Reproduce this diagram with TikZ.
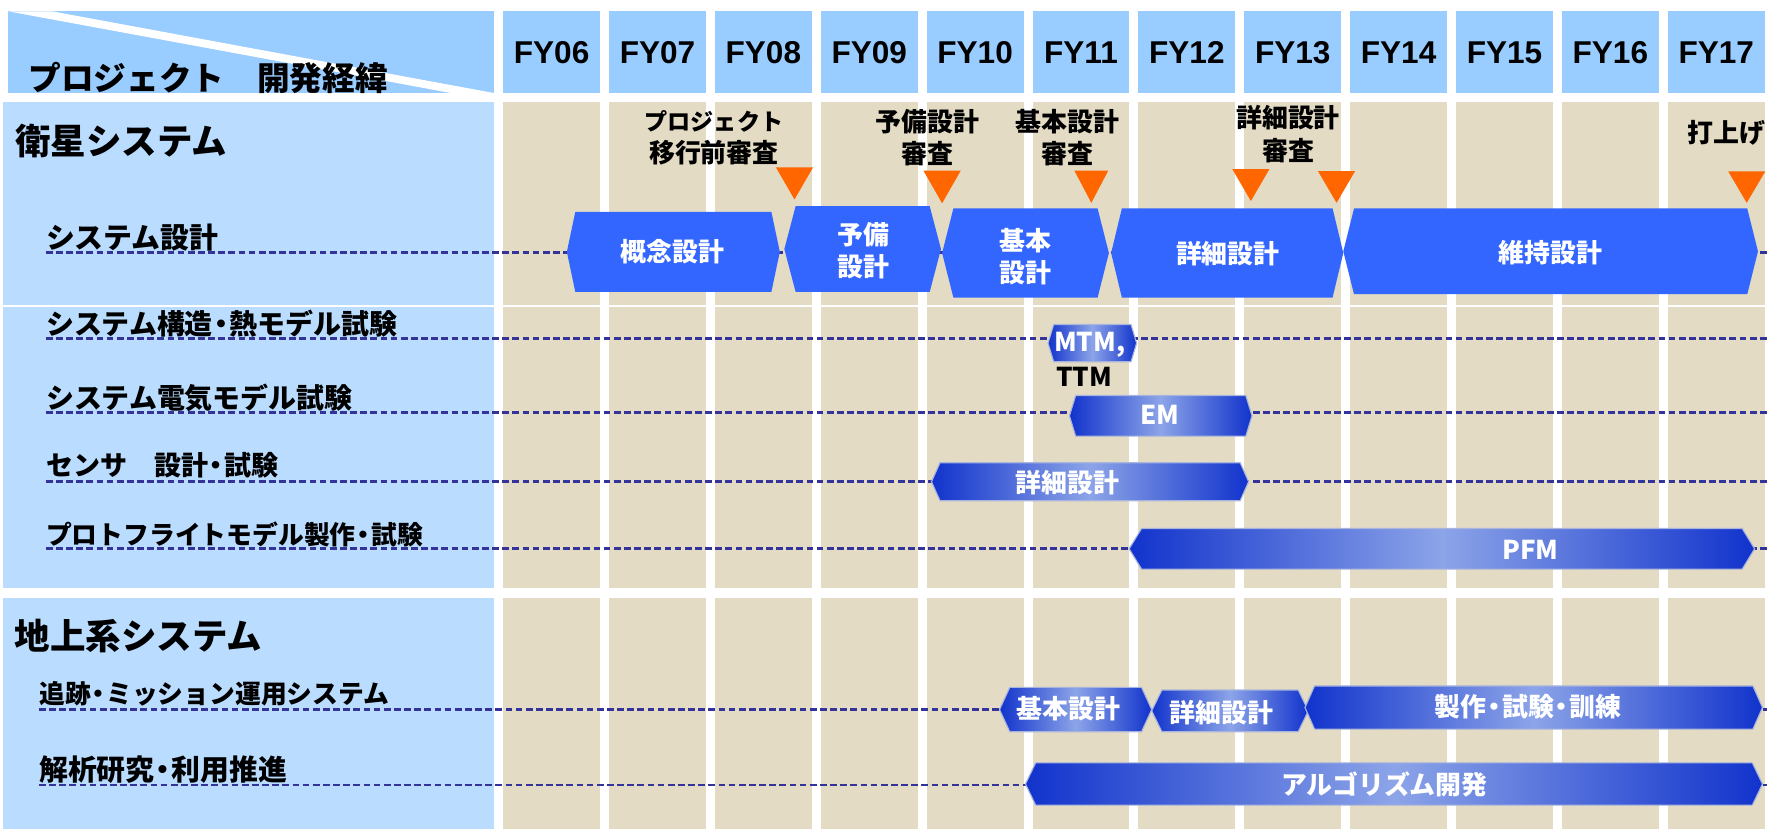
\documentclass[tikz,border=0pt]{standalone}
\usepackage{fontspec}
\setmainfont{Liberation Sans}
\newfontfamily\jp{Noto Sans CJK JP}
\newfontfamily\ar{Liberation Sans}
\definecolor{hdr}{HTML}{99CCFF}
\definecolor{pane}{HTML}{B9DCFF}
\definecolor{tancol}{HTML}{E3DBC4}
\definecolor{solidbar}{HTML}{3366FF}
\definecolor{mscol}{HTML}{FF6600}
\definecolor{guidecol}{HTML}{333399}
\definecolor{gdark}{HTML}{1133CC}
\definecolor{glight}{HTML}{8CA4E8}
\definecolor{gedge}{HTML}{A9B5DC}
\newcommand\ndot{\hspace{-0.2em}・\hspace{-0.2em}}
\newcommand\hexbar[6]{%
  \path[#1] (#2,{(#4+#5)/2}) -- ({#2+#6},#4) -- ({#3-#6},#4) -- (#3,{(#4+#5)/2}) -- ({#3-#6},#5) -- ({#2+#6},#5) -- cycle;}
\newcommand\mstri[4]{\fill[mscol] ({#1-#4},#2) -- ({#1+#4},#2) -- (#1,#3) -- cycle;}
\tikzset{
  sec/.style={font=\jp\bfseries\fontsize{31.5}{36}\selectfont, anchor=west, inner sep=0pt},
  rowlab/.style={font=\jp\bfseries\fontsize{#1}{#1}\selectfont, anchor=west, inner sep=0pt},
  rowlab/.default=24,
  mslab/.style={font=\jp\bfseries\fontsize{23}{28.5}\selectfont, align=center, inner sep=0pt},
  bartxt/.style={font=\jp\bfseries\fontsize{23}{28.5}\selectfont, text=white, align=center, inner sep=0pt},
  fy/.style={font=\ar\bfseries\fontsize{28}{32}\selectfont, inner sep=0pt},
  hdrtxt/.style={font=\jp\bfseries\fontsize{29}{34}\selectfont, anchor=west, inner sep=0pt},
  guide/.style={draw=guidecol, line width=2.2, dash pattern=on 6 off 3},
  solidfill/.style={fill=solidbar},
  gradfill/.style={left color=gdark, right color=gdark, middle color=glight, draw=gedge, line width=1}
}
\begin{document}
\begin{tikzpicture}[x=1pt,y=-1pt]
\useasboundingbox (0,0) rectangle (1568,735.7);
% header left
\fill[hdr] (7,10) rectangle (438,82.5);
\fill[white] (7,10) -- (46,10) -- (438,82.5) -- (400,82.5) -- cycle;
\node[hdrtxt] (title) at (25,69) {プロジェクト　開発経緯};
% left panes
\fill[pane] (3,90.2) rectangle (438,522);
\fill[pane] (3,531) rectangle (438,735.7);
% columns
\foreach \lab [count=\k from 0] in {FY06,FY07,FY08,FY09,FY10,FY11,FY12,FY13,FY14,FY15,FY16,FY17} {
  \pgfmathsetmacro\xa{446.5+93.95*\k}
  \pgfmathsetmacro\xb{\xa+86}
  \fill[hdr] (\xa,10) rectangle (\xb,82.5);
  \fill[tancol] (\xa,90.2) rectangle (\xb,522);
  \fill[tancol] (\xa,531) rectangle (\xb,735.7);
  \node[fy] (fy\k) at ({(\xa+\xb)/2},46.5) {\lab};
}
\draw[white, line width=1.5] (3,271.6) -- (1568,271.6);
% row labels
\node[sec] (sat) at (13.5,125) {衛星システム};
\node[rowlab=25.6] (r1) at (40.7,211) {システム設計};
\node[rowlab=24.8] (r2) at (40.7,287.5) {システム構造\ndot 熱モデル試験};
\node[rowlab=24.8] (r3) at (40.7,352.6) {システム電気モデル試験};
\node[rowlab=24] (r4) at (40.7,413) {センサ　設計\ndot 試験};
\node[rowlab=22.9] (r5) at (40.7,474) {プロトフライトモデル製作\ndot 試験};
\node[sec] (gnd) at (13,564) {地上系システム};
\node[rowlab=22.9] (r6) at (34.6,616) {追跡\ndot ミッション運用システム};
\node[rowlab=25.6] (r7) at (34.6,682.6) {解析研究\ndot 利用推進};
% guide lines
\foreach \y/\x in {224/40.7, 300.2/40.7, 366/40.7, 427.1/40.7, 486.9/40.7, 629.5/34.6, 696.6/34.6}
  \draw[guide] (\x,\y) -- (1568,\y);
% milestones
\mstri{705}{148.5}{177}{16.5}
\mstri{836}{151.5}{180.4}{16.5}
\mstri{968.4}{151.5}{180}{15}
\mstri{1110}{150}{178.4}{16.5}
\mstri{1186}{151.8}{180}{16.5}
\mstri{1550}{152}{180}{16.5}
\node[mslab] (m1) at (633.5,122) {{\fontsize{20.5}{28.5}\selectfont プロジェクト}\\移行前審査};
\node[mslab] (m2) at (823,122) {予備設計\\審査};
\node[mslab] (m3) at (947,122) {基本設計\\審査};
\node[mslab] (m4) at (1143,119) {詳細設計\\審査};
\node[mslab, anchor=west] (m5) at (1497,117.5) {打上げ};
% system design bars
\hexbar{solidfill}{503}{692}{188}{259}{7.5}
\hexbar{solidfill}{696}{835}{183}{259}{10}
\hexbar{solidfill}{836}{984}{185}{264}{10}
\hexbar{solidfill}{986}{1192}{185}{264}{9.5}
\hexbar{solidfill}{1192}{1560}{185}{261}{9.5}
\node[bartxt] (b1) at (597,223.5) {概念設計};
\node[bartxt] (b2) at (766,222.5) {予備\\設計};
\node[bartxt] (b3) at (910,228) {基本\\設計};
\node[bartxt] (b4) at (1089.6,224.8) {詳細設計};
\node[bartxt] (b5) at (1376,224) {維持設計};
% gradient bars
\hexbar{gradfill}{930}{1008.6}{288}{321}{5}
\node[bartxt] (g1) at (967,306) {MTM,};
\node[bartxt, text=black] (g1b) at (962,334) {TTM};
\hexbar{gradfill}{949}{1111}{351}{387}{5.5}
\node[bartxt] (g2) at (1029,368.5) {EM};
\hexbar{gradfill}{826.6}{1108}{410.6}{444.3}{7.5}
\node[bartxt] (g3) at (947,428.5) {詳細設計};
\hexbar{gradfill}{1002}{1557}{469}{505}{11}
\node[bartxt] (g4) at (1358,487.7) {PFM};
\hexbar{gradfill}{887}{1022}{610}{649.3}{9}
\node[bartxt] (g5) at (948,628.5) {基本設計};
\hexbar{gradfill}{1022}{1161}{612.3}{649.3}{9}
\node[bartxt] (g6) at (1084,632.3) {詳細設計};
\hexbar{gradfill}{1158}{1564}{608.7}{647}{8.5}
\node[bartxt] (g7) at (1356,627) {製作\ndot 試験\ndot 訓練};
\hexbar{gradfill}{910}{1564}{677}{714.4}{9}
\node[bartxt] (g8) at (1228.5,696) {アルゴリズム開発};
\end{tikzpicture}
\end{document}
